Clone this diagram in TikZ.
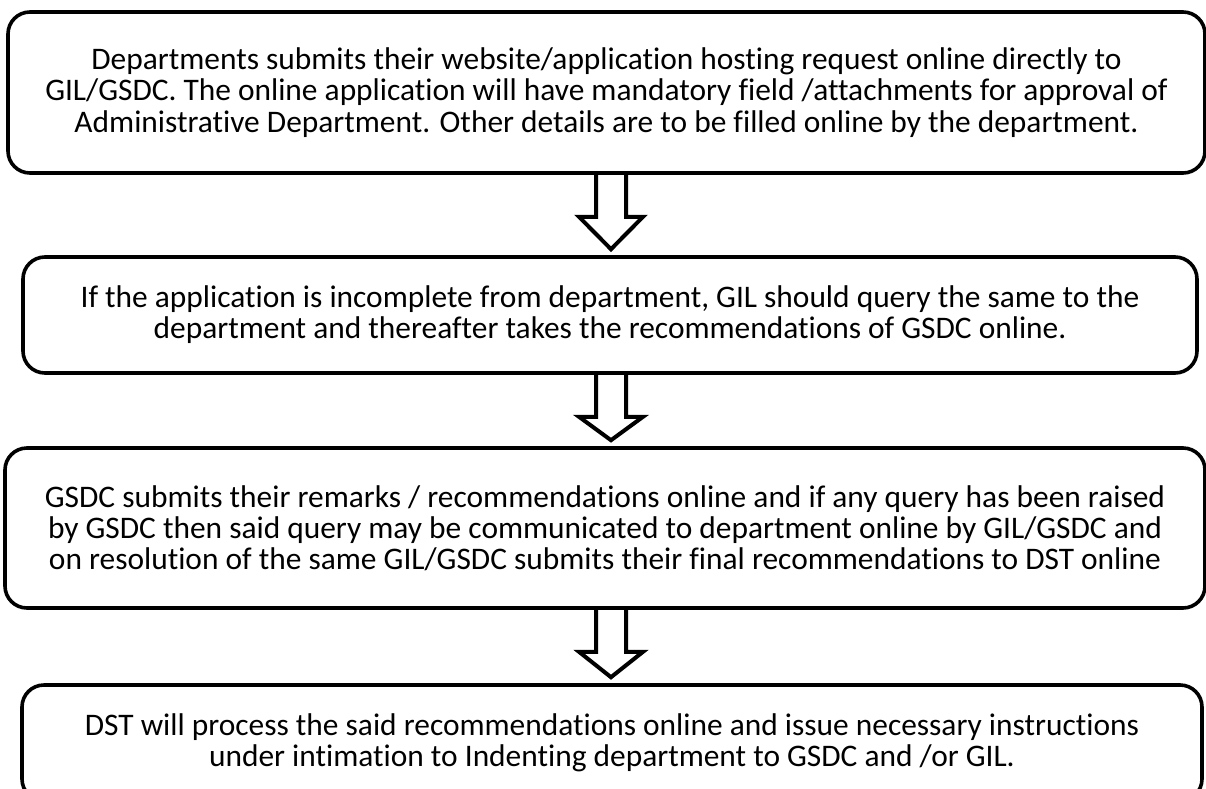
\documentclass[tikz,border=0pt]{standalone}
\usepackage{fontspec}
\setmainfont{Carlito}[Ligatures=CommonOff]
\usetikzlibrary{calc}

\begin{document}
\begin{tikzpicture}[x=0.5pt,y=-0.5pt,
    stepbox/.style={draw,line width=1.8pt,rounded corners=11pt,inner sep=0pt,
      align=center,font=\fontsize{15.7}{15.6}\selectfont},
    blockarr/.style={draw,line width=2pt,line join=miter}]
  \useasboundingbox (0,0) rectangle (1206,788);
  \clip (0,0) rectangle (1206,788);

  \node[stepbox,minimum width=1197*0.5pt,minimum height=161*0.5pt] (sub) at (606.5,92.5)
    {Departments submits their website/application hosting request online directly to\\
     GIL/GSDC. The online application will have mandatory field /attachments for approval of\\
     Administrative Department. Other details are to be filled online by the department.};
  \node[stepbox,minimum width=1174*0.5pt,minimum height=116*0.5pt] (query) at (610,315)
    {If the application is incomplete from department, GIL should query the same to the\\
     department and thereafter takes the recommendations of GSDC online.};
  \node[stepbox,minimum width=1200*0.5pt,minimum height=160*0.5pt] (remark) at (605,528)
    {GSDC submits their remarks / recommendations online and if any query has been raised\\
     by GSDC then said query may be communicated to department online by GIL/GSDC and\\
     on resolution of the same GIL/GSDC submits their final recommendations to DST online};
  \node[stepbox,minimum width=1180*0.5pt,minimum height=116*0.5pt] (dst) at (612,743)
    {DST will process the said recommendations online and issue necessary instructions\\
     under intimation to Indenting department to GSDC and /or GIL.};

  \coordinate (ax) at (611,0);
  \foreach \a/\b in {sub/query,query/remark,remark/dst} {
    \draw[blockarr] ($(\a.south -| ax)+(-15,0)$) -- ($(\a.south -| ax)+(-15,42)$)
      -- ($(\a.south -| ax)+(-32,42)$) -- ($(\b.north -| ax)+(0,-6)$)
      -- ($(\a.south -| ax)+(32,42)$) -- ($(\a.south -| ax)+(15,42)$)
      -- ($(\a.south -| ax)+(15,0)$);
  }
\end{tikzpicture}
\end{document}
